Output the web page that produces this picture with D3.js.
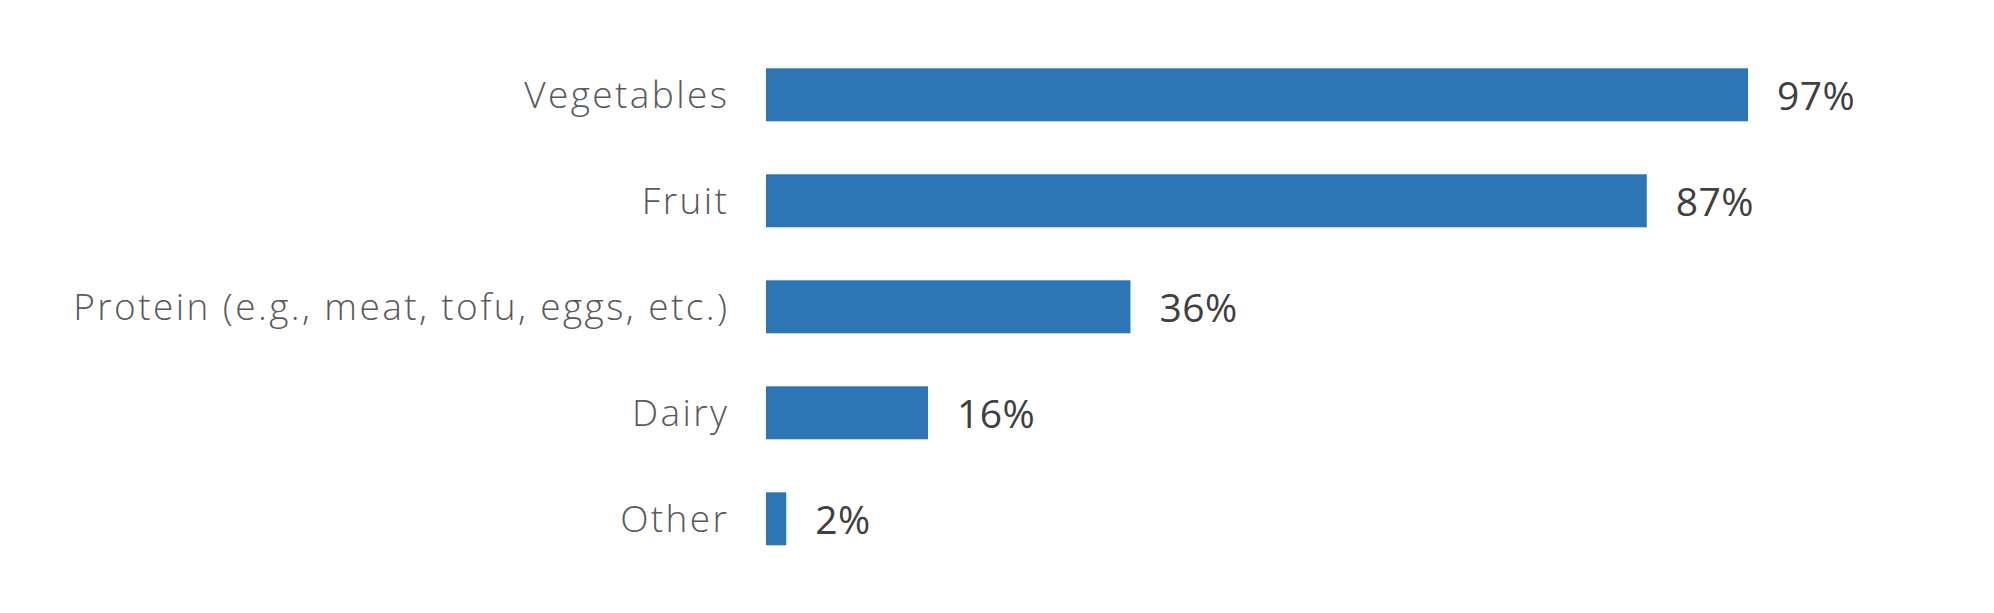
<!DOCTYPE html>
<html>
<head>
  <meta charset="utf-8">
  <title>Food groups</title>
  <script src="https://d3js.org/d3.v7.min.js"></script>
  <style>
    html, body { margin: 0; height: 100%; overflow: hidden; background: #fff; }
    #chart { width: 1994px; height: 613px; }
    .cat { font-family: "Open Sans", sans-serif; font-weight: 300; fill: #595959; letter-spacing: 2.4px; }
    .val { font-family: "Open Sans", sans-serif; font-weight: 400; fill: #404040; letter-spacing: 0.5px; }
  </style>
</head>
<body>
  <div id="chart"></div>
  <script>
    const categories = ['Vegetables', 'Fruit', 'Protein (e.g., meat, tofu, eggs, etc.)', 'Dairy', 'Other'];
    const values = [97, 87, 36, 16, 2];
    const valueLabels = ['97%', '87%', '36%', '16%', '2%'];

    const width = 1994, height = 613;

    const svg = d3.select('#chart')
      .append('svg')
      .attr('width', width)
      .attr('height', height);

    // x: 97% bar runs from 766 to 1748
    const x = d3.scaleLinear()
      .domain([0, 97])
      .range([766, 1748]);

    const y = d3.scaleBand()
      .domain(categories)
      .range([41.8, 571.8])
      .paddingInner(0.5)
      .paddingOuter(0.25);

    const rows = categories.map((c, i) => ({ cat: c, v: values[i], lab: valueLabels[i] }));

    // bars
    svg.append('g')
      .selectAll('rect')
      .data(rows)
      .enter().append('rect')
      .attr('x', x(0))
      .attr('y', d => y(d.cat))
      .attr('width', d => x(d.v) - x(0))
      .attr('height', y.bandwidth())
      .attr('fill', '#2E75B6');

    // category labels (letter-spacing adds a trailing gap, so push right by it)
    svg.append('g')
      .selectAll('text')
      .data(rows)
      .enter().append('text')
      .attr('class', 'cat')
      .attr('x', x(0) - 39 + 2.4)
      .attr('y', d => y(d.cat) + y.bandwidth() / 2 + 13)
      .attr('text-anchor', 'end')
      .attr('font-size', '37px')
      .text(d => d.cat);

    // value labels
    svg.append('g')
      .selectAll('text')
      .data(rows)
      .enter().append('text')
      .attr('class', 'val')
      .attr('x', d => x(d.v) + 29)
      .attr('y', d => y(d.cat) + y.bandwidth() / 2 + 15)
      .attr('font-size', '39px')
      .text(d => d.lab);
  </script>
</body>
</html>
